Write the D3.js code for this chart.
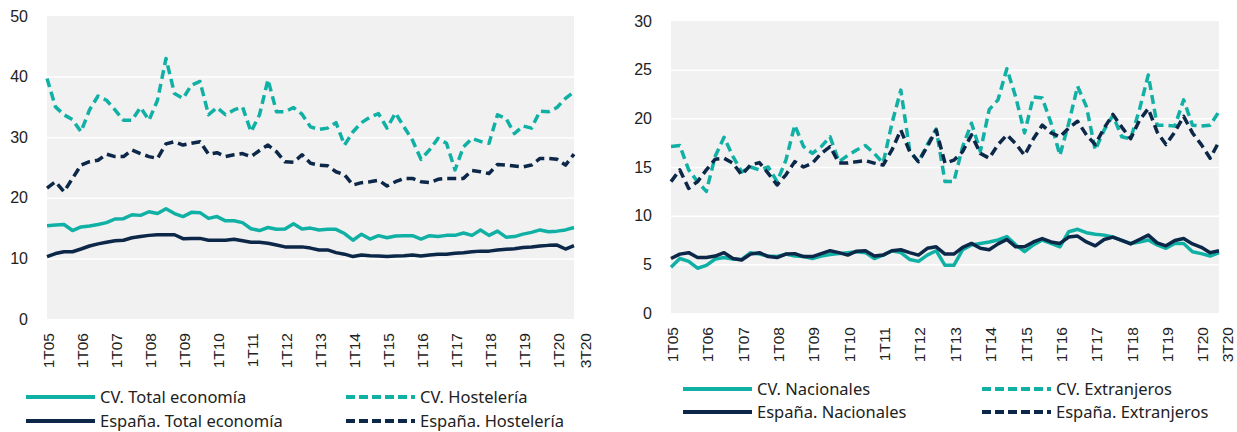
<!DOCTYPE html>
<html>
<head>
<meta charset="utf-8">
<script src="https://cdn.jsdelivr.net/npm/d3@7/dist/d3.min.js"></script>
<style>
  body { margin: 0; background: #fff; }
  svg { display: block; font-family: "Segoe UI", "Noto Sans", "Open Sans", sans-serif; }
</style>
</head>
<body>
<div id="chart"></div>
<script>
// quarters 1T05 .. 3T20
var years = ['05','06','07','08','09','10','11','12','13','14','15','16','17','18','19','20'];
var tickLabels = ['1T05','1T06','1T07','1T08','1T09','1T10','1T11','1T12','1T13','1T14','1T15','1T16','1T17','1T18','1T19','1T20','3T20'];

// left panel
var cvTotal = [15.4,15.5,15.6,14.6,15.2,15.35,15.6,15.9,16.5,16.55,17.2,17.1,17.7,17.4,18.2,17.4,
  16.9,17.6,17.55,16.6,16.9,16.2,16.2,15.9,14.9,14.6,15.1,14.8,14.85,15.7,14.85,15.0,
  14.7,14.8,14.8,14.1,13.0,14.0,13.2,13.75,13.4,13.7,13.75,13.75,13.2,13.75,13.6,13.8,
  13.8,14.2,13.8,14.7,13.8,14.5,13.5,13.6,14.0,14.3,14.7,14.4,14.5,14.7,15.1];
var cvHost = [39.7,35.0,33.7,32.9,30.9,34.5,36.8,36.1,34.5,32.8,32.8,34.9,32.8,36.1,43.0,37.2,
  36.4,38.6,39.2,33.7,34.9,33.7,34.5,35.0,30.9,33.7,39.5,34.2,34.2,34.9,33.8,31.7,
  31.3,31.5,32.4,28.7,30.9,32.4,33.3,33.9,31.5,34.0,31.7,29.5,26.35,27.9,29.8,29.0,
  24.6,28.4,29.8,29.3,29.0,33.7,33.1,30.6,31.85,31.5,34.3,34.2,34.9,36.4,37.5];
var esTotal = [10.3,10.8,11.1,11.1,11.55,12.05,12.4,12.65,12.9,13.0,13.4,13.6,13.8,13.9,13.9,13.9,
  13.25,13.3,13.3,13.0,13.0,13.0,13.15,12.9,12.65,12.65,12.5,12.2,11.9,11.9,11.9,11.7,
  11.4,11.4,10.95,10.7,10.3,10.55,10.45,10.4,10.3,10.4,10.45,10.55,10.4,10.55,10.7,10.7,
  10.85,10.95,11.1,11.2,11.2,11.4,11.5,11.6,11.8,11.9,12.05,12.15,12.2,11.55,12.1];
var esHost = [21.6,22.65,21.0,23.2,25.4,25.95,26.2,27.2,26.8,26.8,27.9,27.3,26.8,26.5,28.9,29.25,
  28.7,29.0,29.25,27.2,27.45,26.8,27.1,27.3,26.8,27.8,28.7,27.6,25.95,25.85,27.1,25.7,
  25.4,25.3,24.3,23.8,22.1,22.5,22.65,22.9,21.95,22.65,23.2,23.2,22.65,22.5,23.05,23.2,
  23.2,23.2,24.5,24.3,24.0,25.5,25.4,25.25,25.1,25.4,26.5,26.5,26.35,25.4,27.2];

// right panel
var cvNac = [4.7,5.6,5.3,4.6,4.9,5.55,5.7,5.55,5.5,6.2,6.05,5.85,5.8,6.05,5.85,5.8,
  5.6,5.85,6.0,6.1,6.2,6.3,6.2,5.6,5.95,6.4,6.2,5.5,5.3,5.95,6.4,4.9,
  4.9,6.5,7.0,7.15,7.3,7.5,7.85,7.0,6.3,7.0,7.5,7.15,6.8,8.35,8.6,8.25,
  8.1,8.0,7.8,7.45,7.15,7.3,7.5,7.0,6.65,7.15,7.15,6.3,6.1,5.85,6.2];
var cvExt = [17.1,17.2,14.7,13.5,12.5,16.1,18.05,16.1,14.5,15.0,14.7,15.0,13.5,15.7,19.3,17.1,
  16.4,17.1,18.1,15.55,16.2,16.75,17.2,16.4,15.4,19.5,22.9,16.75,15.5,17.3,18.9,13.5,
  13.5,17.1,19.5,16.6,20.9,21.9,25.1,22.2,18.5,22.2,22.1,19.5,16.2,19.5,23.3,21.2,
  16.75,18.8,20.3,18.1,17.9,20.9,24.45,19.3,19.3,19.2,21.9,19.3,19.2,19.3,20.7];
var esNac = [5.6,6.05,6.2,5.7,5.7,5.85,6.2,5.6,5.45,6.05,6.2,5.8,5.7,6.05,6.1,5.8,
  5.8,6.1,6.4,6.2,5.95,6.35,6.4,5.85,5.95,6.4,6.5,6.2,5.95,6.65,6.8,6.05,
  6.05,6.75,7.15,6.65,6.5,7.1,7.55,6.8,6.8,7.3,7.65,7.3,7.15,7.8,7.9,7.3,
  6.9,7.55,7.8,7.45,7.1,7.55,8.0,7.2,6.9,7.45,7.65,7.1,6.75,6.2,6.4];
var esExt = [13.5,14.7,12.8,13.5,14.7,15.8,15.9,15.4,14.2,15.2,15.45,14.35,13.15,14.2,15.55,15.0,
  15.4,16.4,17.1,15.4,15.4,15.55,15.65,15.4,15.2,16.75,18.8,16.6,15.55,17.1,18.8,15.4,
  15.7,16.6,18.3,16.4,15.9,17.3,18.3,17.4,16.2,17.9,19.3,18.5,18.1,19.0,19.7,18.3,
  17.3,19.0,20.4,19.1,17.9,19.8,21.0,18.6,17.3,18.6,20.2,18.5,17.3,15.9,17.6];

var leftNames = ['CV. Total economía','CV. Hostelería','España. Total economía','España. Hostelería'];
var rightNames = ['CV. Nacionales','CV. Extranjeros','España. Nacionales','España. Extranjeros'];

(function(d3) {
    var teal = '#11b0a5', navy = '#0c2748';

    var quarters = [];
    years.forEach(function(yy) {
        for (var q = 1; q <= 4; q++) quarters.push(q + 'T' + yy);
    });
    quarters = quarters.slice(0, 63);

    var svg = d3.select('#chart')
        .append('svg')
        .attr('width', 1237)
        .attr('height', 432);

    function panel(opts) {
        var x = d3.scalePoint().domain(quarters).range([opts.left, opts.right]);
        var y = d3.scaleLinear().domain([0, opts.max]).range([opts.bottom, opts.top]);
        var g = svg.append('g');

        g.append('rect')
            .attr('x', opts.left).attr('y', opts.top)
            .attr('width', opts.right - opts.left)
            .attr('height', opts.bottom - opts.top)
            .attr('fill', '#f1f1f1');

        // white gridlines
        var grid = g.append('g')
            .attr('transform', 'translate(' + opts.left + ',0)')
            .call(d3.axisLeft(y).tickValues(d3.range(opts.step, opts.max, opts.step))
                .tickSize(-(opts.right - opts.left)).tickFormat(''));
        grid.select('.domain').remove();
        grid.selectAll('line').attr('stroke', '#fff').attr('stroke-width', 1.5);

        var ya = g.append('g')
            .attr('transform', 'translate(' + opts.labelX + ',0)')
            .call(d3.axisLeft(y).tickValues(d3.range(0, opts.max + 1, opts.step)).tickSize(0).tickPadding(0));
        ya.select('.domain').remove();
        ya.selectAll('text').attr('font-size', 16).attr('fill', '#222').style('font-family', null);

        var xa = g.append('g')
            .attr('transform', 'translate(0,' + opts.bottom + ')')
            .call(d3.axisBottom(x).tickValues(tickLabels).tickSize(0));
        xa.select('.domain').remove();
        xa.selectAll('text')
            .style('font-family', null)
            .attr('font-size', 15.5)
            .attr('fill', '#222')
            .attr('text-anchor', 'end')
            .attr('transform', 'rotate(-90)')
            .attr('x', -14)
            .attr('y', function(d) { return d === '3T20' ? opts.lastShift : 0; })
            .attr('dy', '0.42em');

        var line = d3.line()
            .x(function(d, i) { return x(quarters[i]); })
            .y(function(d) { return y(d); });

        opts.series.forEach(function(s) {
            g.append('path')
                .datum(s.values)
                .attr('d', line)
                .attr('fill', 'none')
                .attr('stroke', s.color)
                .attr('stroke-width', 3.5)
                .attr('stroke-linejoin', 'round')
                .attr('stroke-dasharray', s.dashed ? '9,5' : null);
        });

        // legend, two rows of two
        var leg = g.append('g');
        opts.series.forEach(function(s, i) {
            var lx = opts.legX[i % 2], ly = opts.legY[Math.floor(i / 2)];
            leg.append('line')
                .attr('x1', lx).attr('x2', lx + opts.legLen)
                .attr('y1', ly).attr('y2', ly)
                .attr('stroke', s.color)
                .attr('stroke-width', 4)
                .attr('stroke-dasharray', s.dashed ? '9,4' : null);
            leg.append('text')
                .attr('x', lx + opts.legLen + 5)
                .attr('y', ly)
                .attr('dy', '0.35em')
                .attr('font-size', 16.5)
                .attr('fill', '#222')
                .text(s.name);
        });
    }

    panel({
        left: 47, right: 574, top: 16, bottom: 319, max: 50, step: 10, labelX: 28, lastShift: 10,
        legX: [26, 346], legY: [397, 421], legLen: 69,
        series: [
            {name: leftNames[0], values: cvTotal, color: teal, dashed: false},
            {name: leftNames[1], values: cvHost, color: teal, dashed: true},
            {name: leftNames[2], values: esTotal, color: navy, dashed: false},
            {name: leftNames[3], values: esHost, color: navy, dashed: true}
        ]
    });

    panel({
        left: 671, right: 1219, top: 21, bottom: 313, max: 30, step: 5, labelX: 652, lastShift: 7,
        legX: [683, 982], legY: [389, 412], legLen: 69,
        series: [
            {name: rightNames[0], values: cvNac, color: teal, dashed: false},
            {name: rightNames[1], values: cvExt, color: teal, dashed: true},
            {name: rightNames[2], values: esNac, color: navy, dashed: false},
            {name: rightNames[3], values: esExt, color: navy, dashed: true}
        ]
    });
}(window.d3));
</script>
</body>
</html>
